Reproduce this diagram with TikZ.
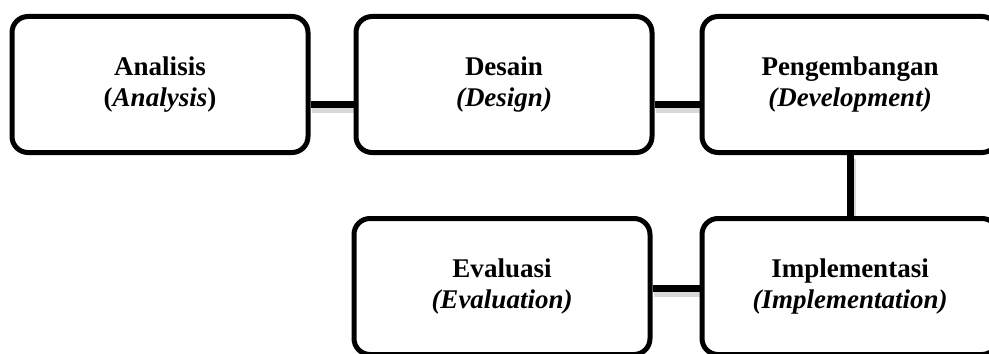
\documentclass[tikz,border=0pt]{standalone}
\usepackage{fontspec}
\setmainfont{Liberation Serif}
\usetikzlibrary{positioning,backgrounds}
\tikzset{
  phase/.style={draw,line width=2.5pt,rounded corners=8pt,fill=white,align=center,font=\fontsize{13.5pt}{15.5pt}\selectfont\bfseries,minimum width=148pt,minimum height=68pt,inner sep=2pt},
  link/.style={line width=3.5pt,preaction={draw=black!15,line width=4.5pt,transform canvas={shift={(0.8pt,-1.8pt)}}}}
}
\begin{document}
\begin{tikzpicture}[x=0.5pt,y=-0.5pt]
\useasboundingbox (0,0) rectangle (989,353);
\clip (0,0) rectangle (989,353);
\node[phase] (ana) at (160,84.5) {Analisis\\(\textit{Analysis})};
\node[phase] (des) at (504,84.5) {Desain\\\textit{(Design)}};
\node[phase] (dev) at (850,84.5) {Pengembangan\\\textit{(Development)}};
\node[phase] (eva) at (502,286.5) {Evaluasi\\\textit{(Evaluation)}};
\node[phase] (imp) at (850,286.5) {Implementasi\\\textit{(Implementation)}};
\begin{scope}[on background layer]
\draw[link] ([yshift=-10pt]ana.east) -- ([yshift=-10pt]des.west);
\draw[link] ([yshift=-10pt]des.east) -- ([yshift=-10pt]dev.west);
\draw[link] (dev.south) -- (imp.north);
\draw[link] ([yshift=-1pt]eva.east) -- ([yshift=-1pt]imp.west);
\end{scope}
\end{tikzpicture}
\end{document}
